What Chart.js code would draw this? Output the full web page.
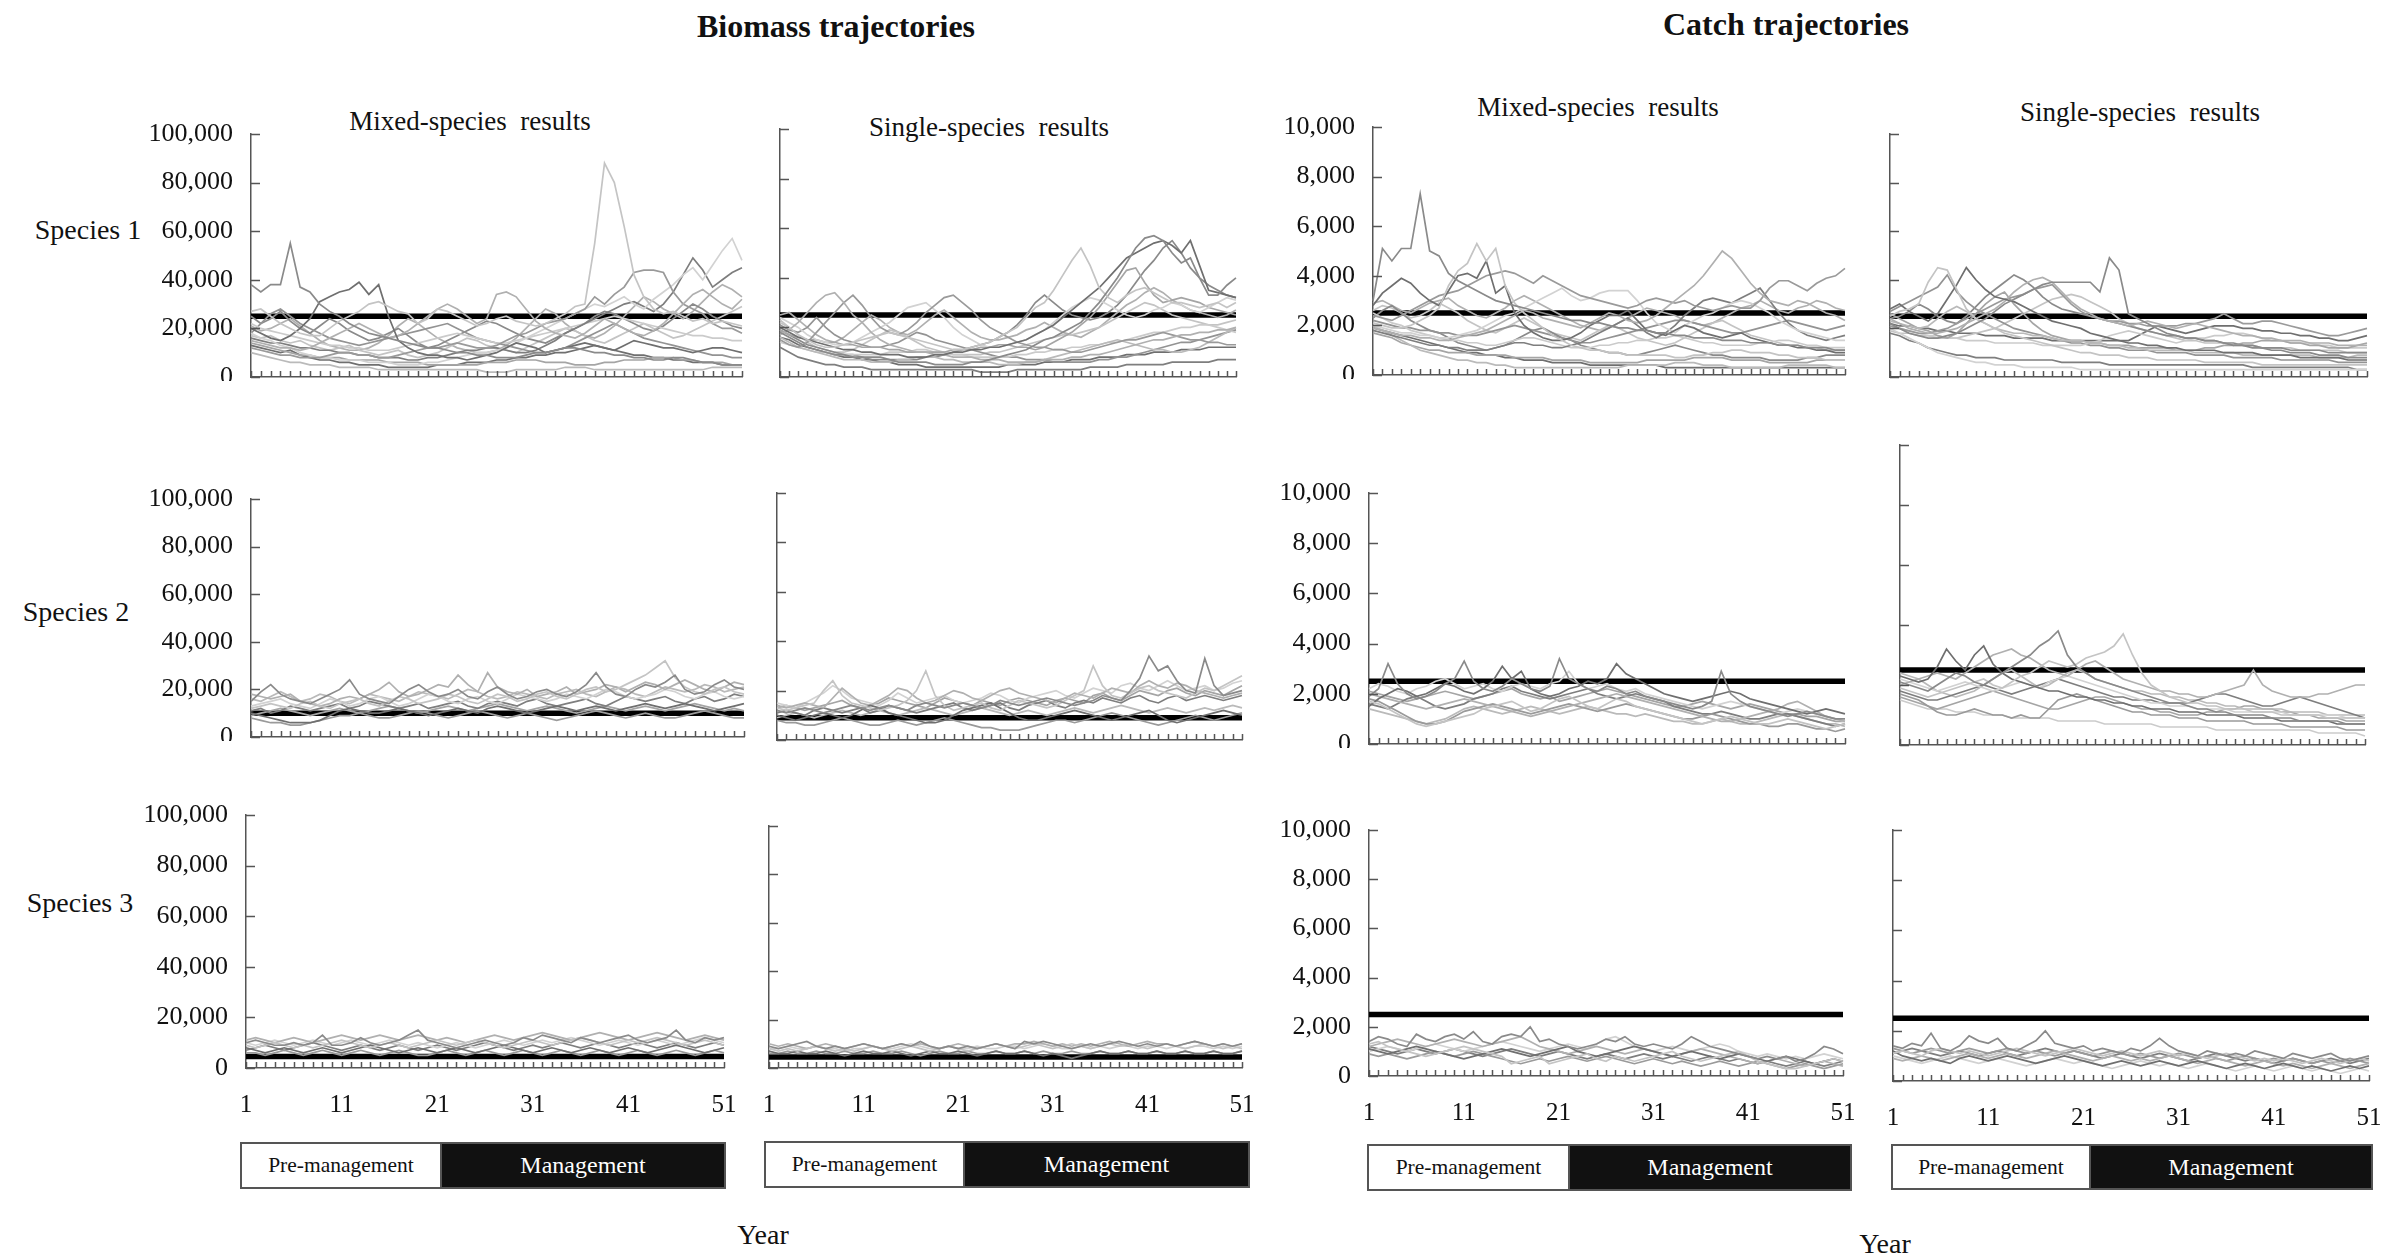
<!DOCTYPE html>
<html>
<head>
<meta charset="utf-8">
<script src="https://cdn.jsdelivr.net/npm/chart.js@4.4.1/dist/chart.umd.min.js"></script>
<style>
  body { margin: 0; background: #fff; }
  #page { position: relative; width: 2382px; height: 1256px; overflow: hidden; background: #fff;
          font-family: "Liberation Serif", "DejaVu Serif", serif; color: #111; }
  .t { position: absolute; transform: translate(-50%, -50%); white-space: pre; }
  .title { font-weight: bold; font-size: 32px; }
  .sub { font-size: 27px; }
  .sp { font-size: 28px; }
  .yr { font-size: 28px; }
  .box { position: absolute; box-sizing: border-box; border: 2px solid #555; display: flex;
         align-items: center; justify-content: center; font-size: 21.5px; }
  .pre { background: #fff; color: #111; }
  .mgmt { background: #111; color: #fff; font-size: 24px; }
  .panel { position: absolute; }
</style>
</head>
<body>
<div id="page">
  <div class="t title" style="left:836px;top:26px">Biomass trajectories</div>
  <div class="t title" style="left:1786px;top:24px">Catch trajectories</div>

  <div class="t sub" style="left:470px;top:121px">Mixed-species  results</div>
  <div class="t sub" style="left:989px;top:127px">Single-species  results</div>
  <div class="t sub" style="left:1598px;top:107px">Mixed-species  results</div>
  <div class="t sub" style="left:2140px;top:112px">Single-species  results</div>

  <div class="t sp" style="left:88px;top:230px">Species 1</div>
  <div class="t sp" style="left:76px;top:612px">Species 2</div>
  <div class="t sp" style="left:80px;top:903px">Species 3</div>

  <div class="box pre" style="left:240px;top:1142px;width:202px;height:47px">Pre-management</div>
  <div class="box mgmt" style="left:440px;top:1142px;width:286px;height:47px">Management</div>
  <div class="box pre" style="left:764px;top:1141px;width:201px;height:47px">Pre-management</div>
  <div class="box mgmt" style="left:963px;top:1141px;width:287px;height:47px">Management</div>
  <div class="box pre" style="left:1367px;top:1144px;width:203px;height:47px">Pre-management</div>
  <div class="box mgmt" style="left:1568px;top:1144px;width:284px;height:47px">Management</div>
  <div class="box pre" style="left:1891px;top:1144px;width:200px;height:46px">Pre-management</div>
  <div class="box mgmt" style="left:2089px;top:1144px;width:284px;height:46px">Management</div>

  <div class="t yr" style="left:763px;top:1235px">Year</div>
  <div class="t yr" style="left:1885px;top:1244px">Year</div>
</div>

<script>
// Simulation years (x categories) and the labelled ones
const years = [1,2,3,4,5,6,7,8,9,10,11,12,13,14,15,16,17,18,19,20,21,22,23,24,25,26,27,28,29,30,
  31,32,33,34,35,36,37,38,39,40,41,42,43,44,45,46,47,48,49,50,51];
const xTickLabels = [1, 11, 21, 31, 41, 51];

// Reference (target) levels, drawn as the black line: biomass in thousands, catch in hundreds
const refBioMixed = [25, 10, 4.5];
const refBioSingle = [25, 9, 4.5];
const refCatchMixed = [25, 25, 25];
const refCatchSingle = [25, 25, 25];

// Biomass trajectories, thousands
const bioMixSp1 = [
  [38,35,38,38,55,37,35,30,27,25, 22,20,18,17,16,15,14,13,12,12, 11,10,10,9,9,8,8,8,9,10, 10,11,12,12,11,10,10,9,9,8, 8,7,7,8,8,7,6,6,5,5,5],
  [27,28,25,22,20,18,17,17,20,23, 25,27,30,31,29,27,26,22,24,28, 27,25,23,21,22,24,25,23,22,21, 22,24,26,29,30,55,88,80,62,42, 33,28,26,27,25,23,24,22,23,22,21],
  [20,18,16,15,17,20,24,31,33,35, 36,39,34,38,25,15,12,10,9,9, 8,8,7,8,9,10,12,14,13,12, 10,11,12,13,14,13,12,11,13,15, 14,13,12,12,11,10,11,12,12,11,10],
  [15,14,13,12,12,11,12,14,16,18, 20,22,20,18,16,17,19,22,25,28, 30,28,25,22,24,34,35,33,28,23, 20,18,17,16,18,21,24,22,20,18, 17,19,22,26,30,34,36,33,30,28,32],
  [12,11,10,9,9,8,8,8,9,10, 10,9,9,8,8,9,10,11,12,12, 13,14,13,12,12,13,15,17,18,20, 22,23,24,26,28,33,30,34,37,43, 44,44,43,35,30,28,26,22,20,20,18],
  [18,16,15,13,12,10,9,8,8,7, 7,7,6,6,6,5,5,5,6,6, 7,8,9,10,10,11,12,14,16,18, 20,22,24,26,28,30,29,31,33,30, 28,32,35,38,42,45,40,46,52,57,48],
  [16,15,14,14,13,12,12,11,11,10, 10,9,9,8,8,8,7,7,8,8, 9,10,11,11,12,12,11,10,10,11, 13,15,18,20,22,24,26,28,30,31, 29,27,30,35,42,49,44,37,40,43,45],
  [10,9,8,7,6,6,5,5,5,4, 4,4,4,3,3,3,3,3,3,3, 3,3,3,3,2,2,2,3,3,3, 3,3,4,4,4,3,3,3,3,3, 3,3,3,3,3,3,3,4,4,4,4],
  [14,13,12,11,10,9,9,8,8,8, 7,7,7,7,6,6,6,6,5,5, 5,5,5,5,6,6,6,7,7,7, 6,6,6,5,5,5,6,6,7,7, 7,8,8,8,7,7,6,6,6,5,5],
  [22,20,19,18,17,16,15,14,13,13, 12,12,11,11,11,12,13,14,15,16, 17,18,17,16,15,14,14,15,16,17, 18,19,20,21,22,23,24,25,24,23, 22,21,20,19,18,17,17,16,16,15,15],
  [18,22,26,28,25,22,20,18,16,15, 14,13,14,15,16,17,18,19,20,21, 22,20,18,16,15,14,13,12,11,10, 10,11,12,14,16,18,20,22,20,18, 16,15,14,13,12,11,10,9,9,8,8],
  [25,22,24,27,23,20,18,21,24,22, 19,17,15,16,18,20,17,14,12,13, 15,17,19,21,23,22,20,18,16,15, 14,16,18,20,22,25,27,26,24,22, 20,19,21,24,27,30,28,25,23,21,20],
  [17,16,17,15,14,15,13,12,11,12, 13,11,10,9,10,11,9,8,9,10, 12,14,16,15,13,12,11,10,12,14, 16,18,20,19,17,15,14,16,18,20, 22,20,18,16,17,19,21,23,25,27,29],
  [13,12,11,10,11,9,8,7,7,6, 6,5,5,5,4,4,4,4,4,5, 5,5,6,6,6,7,7,8,8,9, 9,10,10,11,12,13,12,11,10,9, 9,8,8,7,7,6,6,6,5,5,5],
  [21,19,20,22,24,21,18,15,13,12, 11,11,12,14,17,21,24,22,19,16, 14,12,11,10,10,11,13,16,20,24, 28,26,22,19,17,16,18,21,25,29, 33,31,28,26,24,27,31,35,38,36,33]
];
const bioSingSp1 = [
  [18,16,14,12,11,10,9,9,8,8, 7,7,7,6,6,6,6,5,5,5, 5,6,6,7,8,9,10,11,13,15, 16,18,20,22,26,30,35,40,46,52, 56,57,55,50,46,48,40,33,33,37,40],
  [22,20,17,15,13,12,12,13,14,15, 16,17,18,17,16,15,14,13,12,11, 11,12,13,14,16,18,20,24,28,30, 35,41,47,52,45,36,32,30,33,35, 36,34,32,30,30,29,28,29,30,28,30],
  [20,18,16,15,14,13,12,11,11,10, 10,9,9,9,8,8,8,9,9,10, 10,11,11,12,12,13,14,15,17,19, 21,24,27,30,33,36,40,44,48,50, 52,54,55,53,50,55,45,35,34,33,32],
  [17,19,22,26,30,33,34,30,25,22, 18,15,13,12,11,10,10,9,9,8, 8,8,7,7,7,6,6,6,6,7, 7,7,8,8,9,9,10,11,12,13, 14,15,15,16,17,17,18,18,19,19,20],
  [15,13,12,14,18,22,26,30,33,29, 24,20,18,17,19,22,26,29,32,33, 30,27,23,20,18,16,14,13,12,12, 11,11,10,10,11,12,13,14,15,15, 16,17,18,17,16,15,15,14,14,13,13],
  [24,22,20,17,15,14,13,13,14,16, 18,20,22,25,28,29,30,27,24,20, 17,15,13,12,12,13,14,15,17,19, 22,25,28,30,32,31,29,27,25,24, 25,27,28,30,29,27,26,28,30,32,31],
  [12,10,8,7,6,5,5,4,4,4, 3,3,3,3,3,3,3,3,3,3, 3,3,2,2,2,2,3,3,3,3, 3,3,3,3,4,4,4,4,5,5, 5,5,5,6,6,6,6,6,7,7,7],
  [16,14,12,11,10,9,8,7,7,7, 6,6,6,7,7,8,8,8,7,7, 6,6,6,6,5,5,5,6,6,7, 8,9,10,11,12,13,14,15,14,13, 12,11,11,10,10,11,12,14,16,18,20],
  [19,17,16,15,15,14,14,13,13,12, 12,12,11,11,10,10,10,10,10,11, 11,11,12,12,13,13,12,12,11,12, 14,16,18,21,24,28,33,38,43,44, 38,33,30,31,32,31,30,28,27,26,25],
  [14,13,12,11,10,10,9,9,9,9, 9,9,10,10,10,11,11,10,10,9, 9,8,8,8,8,8,9,9,10,10, 11,11,12,12,13,13,14,14,15,16, 17,18,18,19,20,20,21,21,20,19,18],
  [21,19,18,20,24,20,17,15,14,13, 12,12,13,14,16,18,17,15,14,13, 12,11,10,9,8,8,8,7,7,7, 6,6,6,6,6,7,7,8,8,9, 10,11,12,13,14,14,15,16,17,18,19],
  [19,17,15,13,12,11,10,9,9,8, 8,8,7,7,7,7,8,8,9,10, 11,12,13,14,16,18,21,25,30,33, 30,27,25,24,23,24,26,29,33,38, 43,47,52,55,50,44,40,37,35,33,32],
  [23,20,17,14,12,11,10,10,11,13, 15,17,19,18,16,14,12,11,10,9, 9,9,9,10,10,11,12,13,14,15, 16,17,17,18,19,20,22,24,26,28, 30,29,27,25,24,23,22,21,21,22,23],
  [16,15,13,12,11,10,9,8,8,7, 7,6,6,5,5,5,4,4,4,4, 4,4,4,4,4,5,5,5,5,6, 6,6,7,7,7,8,8,8,9,9, 9,10,10,10,11,11,11,12,12,12,12],
  [25,26,23,20,17,15,14,16,19,22, 25,23,20,18,17,19,22,25,27,24, 21,18,16,15,15,16,17,19,20,22, 20,18,17,16,18,20,23,26,29,31, 34,36,34,31,29,27,26,25,24,25,27]
];
const bioMixSp2 = [
  [15,19,22,18,16,15,14,16,18,20, 24,18,16,15,14,17,20,22,19,17, 18,20,17,16,19,21,18,16,17,19, 20,18,17,19,22,27,21,18,17,20, 22,21,23,26,20,18,19,22,24,21,20],
  [12,13,14,13,12,14,15,13,12,14, 15,16,14,13,15,17,16,14,15,16, 18,17,15,14,16,18,17,15,16,18, 19,17,16,18,20,21,19,20,22,24, 26,29,32,25,21,19,18,20,21,19,18],
  [10,9,8,7,6,6,6,7,9,11, 12,11,10,10,11,12,11,10,9,10, 11,12,11,10,12,13,12,11,10,11, 12,13,12,11,12,13,12,11,12,13, 14,13,12,13,14,13,12,11,12,13,14],
  [18,17,16,17,18,15,14,13,14,16, 17,16,18,20,23,19,17,18,20,22, 21,26,22,19,27,21,19,18,20,17, 18,19,21,18,19,20,22,21,19,21, 23,22,20,22,24,22,20,19,21,23,22],
  [8,7,6,6,5,5,6,7,8,9, 9,10,9,8,8,9,10,11,10,9, 8,9,10,11,10,9,8,9,10,9, 8,7,8,9,10,11,10,9,8,9, 10,9,8,8,9,10,11,10,9,8,8],
  [13,14,15,16,14,13,12,14,16,15, 13,14,16,17,15,13,14,16,18,17, 15,14,16,17,15,14,16,18,17,16, 15,16,18,17,16,18,20,19,17,16, 17,18,20,19,17,16,18,19,17,16,17],
  [11,12,10,11,13,12,11,12,13,14, 12,13,15,14,13,12,13,14,12,13, 14,15,13,12,14,15,14,13,15,16, 14,13,14,15,16,14,13,15,17,16, 15,16,17,15,14,16,17,15,16,18,17],
  [16,15,17,19,17,15,16,18,17,15, 14,16,18,17,16,15,17,19,18,17, 16,18,20,19,17,16,17,19,18,17, 16,18,19,20,18,17,19,21,20,18, 17,19,21,20,19,20,22,21,19,20,21],
  [9,10,11,12,11,10,9,10,11,12, 11,10,11,12,13,12,11,10,11,12, 13,12,11,12,13,14,13,12,11,12, 13,12,11,10,11,12,13,12,11,12, 13,12,11,12,13,14,13,12,11,12,11]
];
const bioSingSp2 = [
  [12,11,12,13,12,11,12,13,14,13, 12,13,14,13,12,14,15,14,13,14, 15,14,13,14,16,15,14,15,16,17, 16,15,14,15,16,18,17,16,20,25, 34,28,30,24,20,19,33,22,18,19,20],
  [13,12,13,14,15,20,24,18,15,14, 13,12,13,14,16,20,28,18,14,12, 13,14,15,13,12,14,16,15,14,13, 14,16,18,20,30,22,18,17,19,21, 22,20,19,18,17,19,21,20,22,24,26],
  [10,9,8,9,10,11,10,9,10,12, 14,13,11,10,9,8,7,7,8,10, 12,13,14,15,13,11,9,8,8,9, 10,11,12,11,10,9,8,9,10,11, 12,10,8,7,8,9,10,11,12,11,10],
  [14,13,14,15,14,13,17,21,18,15, 14,16,18,21,20,17,15,16,18,20, 19,17,16,18,20,21,19,18,17,16, 15,17,19,18,17,19,21,20,19,22, 24,22,21,23,22,20,19,18,17,18,19],
  [8,7,7,6,6,7,8,9,8,7, 6,6,7,8,7,6,7,8,9,8, 7,6,5,5,4,4,4,5,6,7, 8,8,7,8,9,10,11,10,9,8, 7,6,7,8,9,10,9,8,9,10,11],
  [15,14,13,15,17,19,22,20,17,16, 15,14,16,19,17,15,16,17,18,16, 15,16,17,19,18,16,15,17,18,19, 20,18,17,19,21,20,19,22,23,21, 20,22,24,22,20,21,22,20,21,23,24],
  [11,12,11,10,12,13,12,11,12,13, 11,12,14,13,12,11,12,13,14,15, 13,12,13,14,15,13,12,14,15,16, 14,13,15,16,15,17,16,15,17,18, 16,15,17,18,16,17,18,17,16,17,18],
  [9,10,11,10,9,10,11,12,11,10, 11,12,11,10,11,12,13,12,11,10, 11,12,13,12,11,10,11,12,11,10, 11,12,13,12,11,12,13,14,13,12, 11,12,13,12,11,12,13,12,13,14,13],
  [13,14,13,12,13,14,15,16,14,13, 14,15,17,16,15,14,13,15,17,16, 15,14,16,15,14,16,17,16,15,14, 16,17,16,15,18,19,17,16,18,20, 19,18,20,21,19,18,20,19,18,20,22]
];
const bioMixSp3 = [
  [10,11,10,9,9,10,9,10,13,9, 9,10,12,10,9,10,11,13,15,11, 10,9,8,9,10,11,10,9,10,12, 11,13,12,11,10,12,11,10,11,12, 13,11,10,11,12,15,11,10,12,11,12],
  [9,8,9,10,9,8,9,8,9,10, 11,10,9,8,9,10,9,8,9,10, 11,10,9,10,11,10,9,8,9,10, 11,10,9,10,11,12,11,10,9,10, 11,10,11,12,11,10,9,10,11,10,9],
  [8,7,6,7,8,7,6,7,8,7, 6,7,8,9,8,7,6,7,8,7, 6,7,8,7,6,7,8,9,8,7, 6,7,8,7,6,7,8,7,6,7, 8,7,6,7,8,9,8,7,6,7,8],
  [11,12,11,10,11,12,11,10,11,12, 13,12,11,12,13,12,11,12,13,12, 11,12,11,10,11,12,13,12,11,12, 13,14,13,12,11,12,13,14,13,12, 11,12,13,14,13,12,11,12,13,12,11],
  [6,6,5,6,7,6,5,6,7,6, 5,6,7,6,5,6,7,6,5,5, 6,7,6,5,6,7,6,5,6,7, 6,5,6,7,6,5,6,7,6,5, 6,7,6,5,6,7,6,5,6,7,6],
  [10,9,10,11,10,9,10,11,10,9, 10,11,10,9,10,11,10,9,10,9, 8,9,10,9,8,9,10,11,10,9, 10,11,10,11,12,11,10,9,10,11, 10,9,10,11,10,9,10,11,12,11,10],
  [7,8,9,8,7,8,9,10,9,8, 7,8,9,8,7,8,9,8,7,8, 9,8,7,8,9,10,9,8,7,8, 9,8,9,10,9,8,9,10,9,8, 9,10,9,8,9,10,9,8,9,10,9]
];
const bioSingSp3 = [
  [9,8,9,10,11,9,8,9,8,9, 10,9,8,9,10,9,11,9,8,9, 8,9,8,9,10,9,8,11,10,11, 10,9,8,9,10,9,10,11,10,9, 10,9,10,9,10,11,10,9,10,9,10],
  [8,7,8,7,8,9,8,7,8,7, 8,9,8,7,8,9,8,7,8,9, 8,7,8,9,10,9,8,9,10,9, 8,9,10,9,8,9,10,9,10,9, 8,9,10,9,8,9,10,9,8,9,8],
  [7,6,6,7,6,6,7,6,5,6, 7,6,6,7,6,5,6,7,6,6, 7,6,5,6,7,6,6,7,6,5, 6,5,4,5,6,7,6,6,7,6, 6,7,6,6,7,6,6,7,6,6,7],
  [10,9,10,9,8,9,10,9,8,9, 10,9,8,9,10,9,10,9,8,9, 10,9,8,9,10,9,10,10,11,10, 9,10,9,10,9,10,11,10,9,10, 11,10,10,9,10,11,10,9,10,9,10],
  [6,6,7,6,6,7,6,6,7,6, 6,7,6,6,7,6,5,6,7,6, 6,7,6,6,7,6,6,7,6,7, 6,6,7,6,6,7,6,6,7,6, 6,7,6,6,7,6,6,7,6,6,7],
  [8,8,9,8,8,9,8,8,7,8, 8,9,8,8,9,10,9,8,8,9, 8,8,9,8,8,9,9,8,9,10, 9,8,8,9,8,9,8,9,9,8, 9,9,8,9,8,9,9,8,9,8,9]
];

// Catch trajectories, hundreds
const catchMixSp1 = [
  [30,51,46,51,51,73,50,48,41,38, 36,34,32,30,29,28,27,26,25,24, 23,22,22,21,21,20,19,19,18,18, 17,17,16,16,15,15,15,14,14,14, 13,13,13,12,12,12,11,11,11,10,10],
  [21,20,19,19,20,22,24,27,36,42, 45,53,46,51,36,29,25,22,19,16, 14,12,11,10,10,9,9,8,8,8, 8,8,7,7,8,8,9,9,10,10, 9,9,9,8,8,7,7,7,6,6,6],
  [28,33,36,39,37,33,30,28,34,40, 41,39,46,33,36,25,20,17,15,14, 14,15,17,20,22,24,24,26,22,18, 17,16,18,20,19,17,16,15,16,17, 15,14,13,12,12,11,11,10,10,9,9],
  [19,18,17,16,16,15,15,14,14,15, 16,17,18,20,22,24,26,25,23,22, 21,20,19,21,23,25,24,22,21,22, 24,27,30,33,36,40,45,50,47,42, 37,33,30,29,28,30,29,27,25,24,22],
  [24,23,22,24,26,28,30,32,33,34, 36,38,40,41,42,41,39,37,40,38, 36,34,32,31,30,29,28,27,28,30, 31,30,29,30,28,27,26,27,28,27, 27,30,35,38,38,36,34,37,39,40,43],
  [20,19,18,17,17,16,16,15,15,16, 17,18,20,22,24,25,27,29,31,33, 35,32,30,31,33,34,34,34,30,25, 21,19,17,20,22,24,25,27,29,30, 29,27,25,22,20,18,17,16,15,14,14],
  [18,17,16,15,14,13,12,12,11,11, 10,10,10,11,12,13,13,12,12,11, 11,12,13,15,17,19,21,23,20,17, 15,17,20,24,27,30,31,30,29,31, 33,35,30,25,21,18,16,15,14,15,16],
  [20,18,16,14,12,10,9,8,7,6, 6,5,5,4,4,3,3,3,3,3, 3,3,3,3,3,3,3,4,4,4, 4,4,5,5,5,4,4,4,3,3, 3,3,3,3,4,4,4,4,4,3,3],
  [17,16,15,13,12,11,10,10,9,9, 9,8,8,8,8,7,7,7,7,6, 6,6,6,5,5,5,5,5,5,6, 6,6,6,6,7,7,7,7,6,6, 6,6,5,5,5,5,5,6,6,6,6],
  [25,23,21,20,18,17,16,15,14,14, 13,13,12,12,13,14,15,15,14,13, 12,11,11,11,12,12,13,13,14,14, 15,15,16,15,14,13,13,12,12,12, 12,13,13,14,14,13,12,12,11,11,11],
  [22,21,20,19,19,18,18,17,17,16, 16,16,17,18,19,20,19,18,17,16, 15,14,13,13,14,15,16,17,18,19, 20,21,22,22,21,20,19,18,17,17, 18,19,20,21,22,21,20,19,18,19,20],
  [23,26,28,25,22,20,18,17,15,13, 12,11,10,11,12,14,16,18,19,17, 15,14,12,11,10,9,9,8,8,9, 10,11,12,11,10,9,8,8,7,7, 7,7,6,6,6,6,7,7,8,8,8],
  [26,28,27,25,23,24,26,29,27,25, 22,20,18,17,19,21,23,21,19,17, 16,15,14,16,18,20,19,17,15,14, 13,12,13,15,17,19,21,22,20,18, 16,15,14,13,12,12,11,11,10,10,10],
  [19,18,17,16,15,14,13,12,11,10, 9,9,8,8,7,7,6,6,6,5, 5,5,5,4,4,4,4,4,4,4, 4,3,3,3,3,3,3,3,3,3, 3,3,3,3,3,3,3,3,3,3,3],
  [29,30,28,26,25,27,29,30,31,28, 26,24,23,25,27,30,32,30,28,26, 24,22,20,19,18,19,21,23,25,27, 26,25,24,22,21,20,21,23,25,27, 28,30,28,26,25,27,28,30,29,27,26]
];
const catchSingSp1 = [
  [22,20,18,17,16,16,17,18,20,22, 24,27,30,32,34,36,38,39,39,39, 39,39,35,49,44,26,24,22,20,18, 17,16,16,15,15,14,13,13,12,12, 11,11,10,10,10,9,9,9,8,8,8],
  [25,27,28,30,39,45,44,36,28,24, 22,20,18,17,16,15,14,13,12,11, 10,10,9,9,9,8,8,8,7,7, 7,7,7,6,6,6,6,6,6,5, 5,5,5,5,5,5,5,5,5,5,5],
  [28,30,27,25,23,26,32,38,45,40, 36,33,32,31,29,27,25,23,22,21, 20,18,17,16,15,14,14,13,13,12, 12,11,11,11,11,10,10,10,10,9, 9,9,9,8,8,8,8,8,7,7,7],
  [24,22,20,19,18,18,19,20,22,24, 26,28,31,35,38,40,41,39,35,31, 28,26,24,23,22,21,22,23,22,21, 20,21,22,21,20,19,18,17,17,16, 16,15,15,15,14,14,14,13,13,13,13],
  [21,20,19,18,18,19,20,22,24,26, 28,30,32,33,34,36,37,38,34,30, 27,25,24,23,23,22,22,21,21,21, 21,22,22,23,24,26,24,22,22,23, 23,22,21,20,19,18,17,17,18,19,20],
  [20,18,16,14,12,10,9,8,7,6, 6,5,5,5,4,4,4,4,4,4, 3,3,3,3,3,3,3,3,3,3, 3,3,3,3,3,3,3,3,3,3, 3,3,3,3,3,3,3,3,3,3,3],
  [18,17,15,14,12,11,10,9,9,8, 8,8,7,7,7,7,7,7,6,6, 6,6,6,5,5,5,5,5,5,5, 5,5,5,5,5,5,5,5,4,4, 4,4,4,4,4,4,4,4,4,3,3],
  [23,22,21,20,21,24,27,29,27,24, 22,20,19,18,18,17,17,16,15,15, 15,14,14,13,13,12,12,11,11,11, 11,11,10,10,10,10,10,9,9,9, 9,9,9,9,9,8,8,8,8,9,9],
  [26,24,22,20,19,17,16,18,22,26, 30,33,35,30,26,22,19,17,16,15, 15,14,14,13,13,13,12,12,12,12, 11,11,11,12,12,13,13,14,14,15, 15,15,14,14,13,13,12,12,12,13,14],
  [21,20,19,18,17,17,16,16,15,15, 15,14,14,14,14,14,13,13,13,13, 13,14,15,17,18,19,18,17,16,15, 14,15,16,16,17,17,18,18,17,16, 15,15,14,14,14,13,13,12,12,12,12],
  [27,29,31,33,35,37,42,35,31,28, 26,24,22,20,19,18,17,16,15,14, 14,13,13,12,12,11,11,11,10,10, 10,10,9,9,9,9,8,8,8,8, 8,7,7,7,7,7,7,6,6,6,6],
  [24,25,27,30,28,25,23,22,25,29, 33,36,39,42,40,37,33,30,28,27, 26,25,24,23,22,21,20,19,18,17, 17,16,16,15,15,14,14,13,13,12, 12,12,11,11,11,11,10,10,10,10,10],
  [19,18,18,17,17,16,16,16,17,18, 19,20,22,24,26,28,30,32,33,34, 33,31,29,27,24,22,20,19,18,17, 16,15,15,14,14,14,13,13,13,12, 12,12,12,11,11,11,11,11,10,10,10],
  [22,21,21,20,20,19,19,18,18,18, 17,17,17,16,16,16,16,15,15,15, 15,15,15,15,15,15,17,19,21,20, 19,18,19,20,21,21,21,20,20,19, 19,18,18,17,17,16,16,15,15,16,17]
];
const catchMixSp2 = [
  [19,22,32,24,20,18,19,21,24,26, 33,25,22,21,23,26,24,22,21,23, 34,26,24,22,21,23,22,20,21,19, 18,17,16,15,14,15,17,29,20,17, 15,14,13,12,11,12,13,12,11,10,10],
  [17,16,14,12,10,8,7,8,9,10, 11,12,14,15,16,17,15,13,14,16, 18,19,17,15,14,16,18,17,15,14, 13,12,11,10,9,8,9,10,11,10, 9,8,8,9,10,9,8,7,6,7,8],
  [15,18,20,22,21,19,20,22,24,23, 21,20,22,25,31,26,29,22,20,19, 20,22,23,25,24,26,32,28,26,24, 22,20,19,18,17,18,19,20,21,20, 18,17,16,15,14,13,12,13,14,13,12],
  [20,19,18,17,16,15,14,15,16,17, 18,17,16,15,14,13,12,11,12,13, 14,15,16,17,18,19,20,19,18,17, 16,15,14,13,12,11,10,9,9,10, 11,12,13,14,16,17,15,13,11,10,9],
  [18,17,15,13,11,9,8,8,9,11, 13,14,15,16,15,14,13,12,13,14, 15,16,15,14,13,14,15,16,15,14, 13,12,11,10,10,11,12,11,10,9, 8,8,7,7,8,8,7,6,6,5,6],
  [22,24,23,21,20,22,23,25,26,24, 22,23,24,22,21,23,24,23,22,24, 25,29,24,22,23,24,22,21,22,20, 19,18,17,16,15,14,15,16,17,16, 15,14,13,12,13,14,13,12,11,10,9],
  [16,15,14,16,18,19,17,15,14,15, 16,18,19,20,22,23,21,20,19,18, 19,20,21,22,20,19,18,19,20,19, 18,17,15,14,13,12,12,13,12,11, 10,10,11,12,12,11,10,9,8,7,8],
  [14,13,12,11,10,9,8,9,10,12, 14,15,14,13,12,13,14,15,14,13, 12,13,14,15,14,13,12,12,11,12, 11,10,9,9,8,8,9,10,9,8, 8,9,10,11,12,11,10,9,8,8,7],
  [21,20,19,18,17,18,19,20,21,20, 19,18,19,20,21,22,20,19,18,19, 17,18,19,20,21,22,21,20,19,18, 17,16,15,15,16,17,16,15,14,15, 16,15,14,13,12,12,11,11,10,9,9]
];
const catchSingSp2 = [
  [21,20,19,18,20,22,24,23,21,20, 22,24,26,28,30,33,35,38,30,26, 24,22,21,20,19,18,17,16,15,14, 14,13,12,12,11,11,10,10,10,10, 9,9,9,8,8,8,8,8,7,7,7],
  [19,18,17,16,17,18,19,20,21,22, 20,19,21,23,24,26,28,27,26,27, 29,30,31,33,37,30,24,20,18,16, 15,14,14,13,13,12,12,12,11,11, 11,10,10,10,10,10,9,9,9,9,9],
  [23,22,21,22,26,32,28,25,30,33, 27,24,22,21,20,19,18,18,17,16, 16,15,15,14,14,13,13,12,12,12, 11,11,11,10,10,10,10,9,9,9, 9,8,8,8,8,8,8,7,7,7,7],
  [20,21,22,23,24,23,22,24,26,28, 30,31,32,30,29,27,25,24,23,25, 27,28,26,24,22,21,20,19,18,18, 17,17,16,16,17,18,19,20,25,20, 18,17,16,16,16,17,17,18,19,20,20],
  [17,16,15,13,11,10,10,11,12,11, 10,10,9,10,9,9,12,15,16,17, 16,15,14,13,12,11,11,10,10,10, 9,9,9,8,8,8,8,8,7,7, 7,7,6,6,6,6,6,6,5,5,5],
  [22,21,20,19,18,19,20,21,20,19, 18,19,20,21,20,19,21,22,23,22, 21,20,19,18,17,16,15,14,14,13, 13,13,12,12,12,12,11,11,11,11, 11,11,10,10,10,10,10,10,9,9,9],
  [18,17,16,15,15,16,17,18,19,20, 19,18,17,18,19,20,21,22,21,20, 19,18,17,16,16,15,15,15,14,14, 14,14,15,16,17,17,16,15,14,13, 13,14,15,16,15,14,13,12,11,10,9],
  [24,23,22,20,18,17,16,17,18,20, 22,24,25,23,21,19,20,22,24,25, 24,22,21,20,19,18,18,17,17,16, 16,15,15,14,14,13,13,12,12,12, 12,12,11,11,11,11,10,10,10,10,10],
  [16,15,14,13,12,13,14,15,16,17, 18,17,16,15,14,13,12,12,13,14, 15,16,16,15,14,13,12,12,11,11, 10,10,10,11,11,12,12,13,13,12, 12,11,11,10,10,9,9,9,8,8,8],
  [15,14,13,12,12,12,11,11,11,10, 10,10,9,9,9,9,9,8,8,8, 8,8,7,7,7,7,7,7,6,6, 6,6,6,6,5,5,5,5,5,5, 5,5,5,5,5,4,4,4,4,4,3]
];
const catchMixSp3 = [
  [14,16,15,13,12,17,15,14,16,17, 15,18,14,13,16,17,16,20,14,15, 13,12,11,12,13,15,14,16,13,12, 13,12,11,13,16,14,12,11,10,9, 8,7,8,7,8,6,7,9,12,11,9],
  [13,14,12,11,10,9,8,9,10,11, 12,11,10,9,8,5,6,7,8,5, 6,7,8,9,7,6,8,7,6,7, 8,9,10,8,7,6,7,8,9,10, 8,6,5,4,3,3,4,5,6,7,6],
  [11,10,9,10,11,12,11,10,9,8, 7,8,9,10,11,10,9,8,9,10, 11,12,10,9,8,9,10,11,12,11, 10,9,8,9,10,9,8,7,8,9, 8,7,6,7,8,7,6,5,6,7,6],
  [12,13,14,15,14,13,12,13,14,15, 14,13,12,13,14,15,16,14,12,11, 10,9,10,11,12,11,10,9,10,11, 10,9,8,9,10,11,10,9,8,7, 6,5,6,7,6,5,4,5,6,5,4],
  [9,8,9,8,7,8,9,10,9,8, 9,10,9,8,7,6,5,6,7,6, 7,8,7,6,7,8,7,6,5,6, 7,6,5,6,5,4,5,6,5,4, 5,6,5,4,3,4,5,4,3,4,5],
  [10,11,12,11,10,11,12,13,12,11, 10,11,12,13,14,13,12,11,10,11, 12,13,12,11,13,15,16,14,12,11, 10,11,12,11,10,11,12,13,12,10, 9,8,9,8,7,8,7,8,9,8,7],
  [12,11,10,9,10,11,10,9,10,11, 10,9,8,9,10,11,10,9,8,9, 10,9,8,7,8,9,8,7,8,9, 8,7,8,7,6,7,8,7,6,7, 6,5,6,5,4,5,6,5,4,5,6]
];
const catchSingSp3 = [
  [14,13,15,14,19,13,12,14,18,16, 15,17,13,12,14,16,20,15,14,13, 14,12,13,12,11,13,12,14,17,14, 12,11,10,12,11,10,11,10,12,11, 10,9,11,10,9,10,11,9,8,9,10],
  [11,12,11,10,12,13,12,11,12,11, 10,11,12,13,12,11,10,11,12,13, 12,11,10,11,12,11,10,11,12,11, 10,11,10,9,10,11,10,9,8,9, 8,9,8,7,8,9,8,7,8,9,8],
  [12,10,9,8,9,8,7,9,10,9, 8,9,10,9,8,7,8,9,10,9, 8,7,6,7,8,7,6,7,8,7, 6,7,8,7,6,5,6,7,6,5, 6,7,6,5,6,5,4,5,6,5,6],
  [9,8,9,10,9,8,9,10,11,10, 9,10,11,10,9,10,11,12,11,10, 9,8,9,10,9,8,9,8,9,10, 9,8,7,8,9,8,7,6,7,8, 7,6,7,6,5,6,7,6,5,6,7],
  [13,12,11,12,13,12,11,12,13,12, 11,12,13,12,11,12,11,10,11,12, 11,10,11,12,11,10,11,10,9,10, 11,10,9,10,9,8,9,10,9,8, 9,8,9,8,7,8,7,8,9,8,7],
  [10,9,8,7,8,9,10,9,8,7, 8,9,8,7,6,7,8,9,8,7, 8,7,6,5,6,7,8,7,6,7, 6,5,6,7,6,5,4,5,6,5, 4,5,6,5,4,5,4,3,4,5,4],
  [11,12,13,12,11,10,11,12,11,10, 11,12,11,10,11,12,13,12,11,12, 11,10,9,10,11,10,9,10,11,10, 9,8,9,10,11,10,9,8,9,8, 7,8,9,8,7,8,9,8,7,8,9]
];

// Styling
const GRAYS = ['#8a8a8a', '#c4c4c4', '#6f6f6f', '#b0b0b0', '#9a9a9a', '#d2d2d2', '#7e7e7e', '#bababa', '#a5a5a5', '#cbcbcb', '#939393'];
const AXIS_COLOR = '#555';
const AXIS_W = 110;   // fixed y-axis box width
const PAD_T = 16;
const PAD_R = 18;

Chart.defaults.font.family = '"Liberation Serif", "DejaVu Serif", serif';
Chart.defaults.color = '#111';

// panel layout: plot-area pixel box on the page
const panels = [
  { series: bioMixSp1,    ref: refBioMixed[0],    unit: 1000, max: 100000, x: 251,  right: 742,  top: 134, bottom: 377,  yLab: true,  xLab: false },
  { series: bioSingSp1,   ref: refBioSingle[0],   unit: 1000, max: 100000, x: 780,  right: 1236, top: 129, bottom: 377,  yLab: false, xLab: false },
  { series: catchMixSp1,  ref: refCatchMixed[0],  unit: 100,  max: 10000,  x: 1373, right: 1845, top: 127, bottom: 375,  yLab: true,  xLab: false },
  { series: catchSingSp1, ref: refCatchSingle[0], unit: 100,  max: 10000,  x: 1890, right: 2367, top: 134, bottom: 377,  yLab: false, xLab: false },
  { series: bioMixSp2,    ref: refBioMixed[1],    unit: 1000, max: 100000, x: 251,  right: 744,  top: 499, bottom: 737,  yLab: true,  xLab: false },
  { series: bioSingSp2,   ref: refBioSingle[1],   unit: 1000, max: 100000, x: 777,  right: 1242, top: 493, bottom: 740,  yLab: false, xLab: false },
  { series: catchMixSp2,  ref: refCatchMixed[1],  unit: 100,  max: 10000,  x: 1369, right: 1845, top: 493, bottom: 744,  yLab: true,  xLab: false },
  { series: catchSingSp2, ref: refCatchSingle[1], unit: 100,  max: 10000,  x: 1900, right: 2365, top: 445, bottom: 745,  yLab: false, xLab: false },
  { series: bioMixSp3,    ref: refBioMixed[2],    unit: 1000, max: 100000, x: 246,  right: 724,  top: 815, bottom: 1068, yLab: true,  xLab: true },
  { series: bioSingSp3,   ref: refBioSingle[2],   unit: 1000, max: 100000, x: 769,  right: 1242, top: 826, bottom: 1068, yLab: false, xLab: true },
  { series: catchMixSp3,  ref: refCatchMixed[2],  unit: 100,  max: 10000,  x: 1369, right: 1843, top: 830, bottom: 1076, yLab: true,  xLab: true },
  { series: catchSingSp3, ref: refCatchSingle[2], unit: 100,  max: 10000,  x: 1893, right: 2369, top: 830, bottom: 1081, yLab: false, xLab: true }
];

// small tick marks pointing into the plot, like the original
const innerTicks = {
  id: 'innerTicks',
  afterDraw(chart) {
    const { ctx, chartArea: a, scales: { x, y } } = chart;
    ctx.save();
    ctx.strokeStyle = AXIS_COLOR;
    ctx.lineWidth = 1.5;
    ctx.beginPath();
    x.ticks.forEach((t, i) => {
      const px = Math.round(x.getPixelForTick(i)) + 0.5;
      ctx.moveTo(px, a.bottom);
      ctx.lineTo(px, a.bottom - 6);
    });
    y.ticks.forEach((t, i) => {
      const py = Math.round(y.getPixelForTick(i)) + 0.5;
      ctx.moveTo(a.left, py);
      ctx.lineTo(a.left + 9, py);
    });
    ctx.stroke();
    ctx.restore();
  }
};

const page = document.getElementById('page');

panels.forEach(p => {
  const xh = p.xLab ? 56 : 4;
  const wrap = document.createElement('div');
  wrap.className = 'panel';
  wrap.style.left = (p.x - AXIS_W) + 'px';
  wrap.style.top = (p.top - PAD_T) + 'px';
  wrap.style.width = (AXIS_W + (p.right - p.x) + PAD_R) + 'px';
  wrap.style.height = (PAD_T + (p.bottom - p.top) + xh) + 'px';
  const canvas = document.createElement('canvas');
  wrap.appendChild(canvas);
  page.appendChild(wrap);

  const datasets = p.series.map((s, i) => ({
    data: s.map(v => v * p.unit),
    borderColor: GRAYS[i % GRAYS.length],
    borderWidth: 1.7
  }));
  // reference level last so it sits underneath the trajectories
  datasets.push({
    data: years.map(() => p.ref * p.unit),
    borderColor: '#000',
    borderWidth: 5.5
  });

  new Chart(canvas, {
    type: 'line',
    data: { labels: years, datasets },
    options: {
      responsive: true,
      maintainAspectRatio: false,
      animation: false,
      layout: { padding: { top: PAD_T, right: PAD_R, left: 0, bottom: 0 } },
      elements: { point: { radius: 0 }, line: { tension: 0 } },
      plugins: { legend: { display: false }, tooltip: { enabled: false } },
      scales: {
        x: {
          grid: { display: true, drawOnChartArea: false, drawTicks: false },
          border: { display: true, color: AXIS_COLOR, width: 1.5 },
          ticks: {
            display: p.xLab,
            autoSkip: false,
            maxRotation: 0,
            minRotation: 0,
            padding: 22,
            font: { size: 25 },
            callback: (v, i) => xTickLabels.includes(years[i]) ? String(years[i]) : ''
          },
          afterFit: s => { s.height = xh; s.paddingLeft = 0; s.paddingRight = 0; }
        },
        y: {
          min: 0,
          max: p.max,
          grid: { display: true, drawOnChartArea: false, drawTicks: false },
          border: { display: true, color: AXIS_COLOR, width: 1.5 },
          ticks: {
            display: p.yLab,
            stepSize: p.max / 5,
            padding: 18,
            font: { size: 26 },
            callback: v => v.toLocaleString('en-US')
          },
          afterFit: s => { s.width = AXIS_W; s.paddingTop = 0; s.paddingBottom = 0; }
        }
      }
    },
    plugins: [innerTicks]
  });
});
</script>
</body>
</html>
